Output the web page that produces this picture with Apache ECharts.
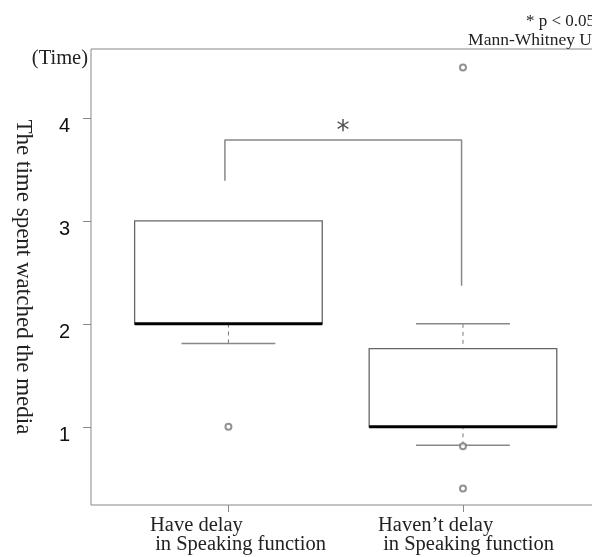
<!DOCTYPE html>
<html><head><meta charset="utf-8">
<script src="https://cdn.jsdelivr.net/npm/echarts@6/dist/echarts.min.js"></script>
<style>html,body{margin:0;padding:0;background:#fff}#c{width:592px;height:557px}</style>
</head><body><div id="c"></div>
<script>
// ---- data ----
const positions = [1, 2];
const catLine1 = ['Have delay', 'Haven\u2019t delay'];
const catLine2 = [' in Speaking function', ' in Speaking function'];
const whiskerLow = [1.81, 0.82];
const q1 = [2.0, 1.0];
const median = [2.0, 1.0];
const q3 = [3.0, 1.76];
const whiskerHigh = [3.0, 2.0];
const outlierX = [1, 2, 2, 2];
const outlierY = [1.0, 0.81, 0.40, 4.49];
const yTicks = [1, 2, 3, 4];
const bracketX = [0.985, 0.985, 1.994, 1.994];
const bracketY = [3.39, 3.786, 3.786, 2.37];
const starPoint = [1.488, 3.86];

const BOX_W = 0.8, CAP_W = 0.4;

const boxData = positions.map((p, i) => [p, whiskerLow[i], q1[i], median[i], q3[i], whiskerHigh[i]]);
const outData = outlierX.map((x, i) => [x, outlierY[i]]);
const bracketData = bracketX.map((x, i) => [x, bracketY[i]]);

function renderBox(params, api) {
  const x = api.value(0), lo = api.value(1), a = api.value(2), m = api.value(3), b = api.value(4), hi = api.value(5);
  const half = api.size([BOX_W, 0])[0] / 2;
  const capHalf = api.size([CAP_W, 0])[0] / 2;
  const pA = api.coord([x, a]), pB = api.coord([x, b]), pM = api.coord([x, m]);
  const pLo = api.coord([x, lo]), pHi = api.coord([x, hi]);
  const cx = pA[0];
  const wStyle = { stroke: '#777', lineWidth: 1, lineDash: [4, 4], fill: null };
  const cStyle = { stroke: '#888', lineWidth: 1.5, fill: null };
  const ch = [];
  if (hi > b) {
    ch.push({ type: 'line', shape: { x1: cx, y1: pHi[1], x2: cx, y2: pB[1] }, style: wStyle });
    ch.push({ type: 'line', shape: { x1: cx - capHalf, y1: pHi[1], x2: cx + capHalf, y2: pHi[1] }, style: cStyle });
  }
  if (lo < a) {
    ch.push({ type: 'line', shape: { x1: cx, y1: pLo[1], x2: cx, y2: pA[1] }, style: wStyle });
    ch.push({ type: 'line', shape: { x1: cx - capHalf, y1: pLo[1], x2: cx + capHalf, y2: pLo[1] }, style: cStyle });
  }
  ch.push({ type: 'rect', shape: { x: cx - half, y: pB[1], width: 2 * half, height: pA[1] - pB[1] },
    style: { fill: '#fff', stroke: '#666', lineWidth: 1.3 } });
  ch.push({ type: 'line', shape: { x1: cx - half, y1: pM[1], x2: cx + half, y2: pM[1] },
    style: { stroke: '#000', lineWidth: 3 } });
  return { type: 'group', children: ch };
}

const serif = 'Liberation Serif';
// label-only axis: its scale puts each category's text block left-aligned under its box
const LABEL_AXIS_MIN = 0.7412, LABEL_AXIS_MAX = 2.9693;

const chart = echarts.init(document.getElementById('c'));
chart.setOption({
  animation: false,
  backgroundColor: '#fff',
  grid: { left: 91, top: 49, width: 508, height: 456, show: true, borderColor: '#888', borderWidth: 1,
    backgroundColor: 'transparent', outerBoundsMode: 'none', containLabel: false },
  xAxis: [{
    type: 'value', min: 0.414, max: 2.58, position: 'bottom',
    splitLine: { show: false }, axisLine: { show: false },
    axisTick: { show: true, customValues: positions, length: 7, lineStyle: { color: '#888' } },
    axisLabel: { show: false }
  }, {
    type: 'value', min: LABEL_AXIS_MIN, max: LABEL_AXIS_MAX, position: 'bottom', offset: 0,
    splitLine: { show: false }, axisLine: { show: false }, axisTick: { show: false },
    axisLabel: {
      customValues: positions, margin: 11, align: 'left',
      fontFamily: serif, fontSize: 20.5, color: '#222', lineHeight: 19,
      formatter: function (v) {
        const i = positions.indexOf(v);
        return i < 0 ? '' : catLine1[i] + '\n' + catLine2[i];
      }
    }
  }],
  yAxis: {
    type: 'value', min: 0.24, max: 4.67,
    splitLine: { show: false }, axisLine: { show: false },
    axisTick: { show: true, customValues: yTicks, length: 8, lineStyle: { color: '#888' } },
    axisLabel: { customValues: yTicks, margin: 21, fontFamily: 'Liberation Sans', fontSize: 20, color: '#111',
      verticalAlign: 'top', lineHeight: 17 },
    name: 'The time spent watched the media', nameLocation: 'middle', nameRotate: -90, nameGap: 56,
    nameTextStyle: { fontFamily: serif, fontSize: 23, color: '#222' }
  },
  graphic: [
    { type: 'text', x: 88, y: 59, style: { text: '(Time)', font: '20.5px "Liberation Serif"', fill: '#222', textAlign: 'right', textVerticalAlign: 'middle' } },
    { type: 'text', x: 526, y: 22, style: { text: '* p < 0.05', font: '17px "Liberation Serif"', fill: '#222', textAlign: 'left', textVerticalAlign: 'middle' } },
    { type: 'text', x: 592, y: 40, style: { text: 'Mann-Whitney U', font: '17.5px "Liberation Serif"', fill: '#222', textAlign: 'right', textVerticalAlign: 'middle' } }
  ],
  series: [
    { type: 'custom', renderItem: renderBox, data: boxData, encode: { x: 0, y: [1, 2, 3, 4, 5] }, z: 2 },
    { type: 'scatter', data: outData, symbol: 'emptyCircle', symbolSize: 6, itemStyle: { color: '#777', borderWidth: 1 }, z: 3 },
    { type: 'line', data: bracketData, symbol: 'none', lineStyle: { color: '#888', width: 1.5 }, z: 3 },
    { type: 'scatter', data: [starPoint], symbolSize: 2, itemStyle: { color: 'rgba(0,0,0,0)' },
      label: { show: true, position: 'inside', formatter: '*', fontFamily: 'DejaVu Sans', fontSize: 26, color: '#222' }, z: 4 }
  ]
});
</script></body></html>
